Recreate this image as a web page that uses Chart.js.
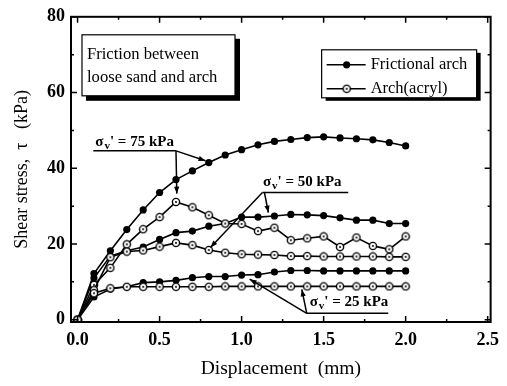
<!DOCTYPE html>
<html lang="en">
<head>
  <meta charset="UTF-8">
  <title>Friction between loose sand and arch</title>
  <script src="https://cdn.jsdelivr.net/npm/chart.js"></script>
  <style>
    html, body { margin: 0; padding: 0; background: #ffffff; }
    #wrap { width: 507px; height: 386px; }
  </style>
</head>
<body>
  <div id="wrap"><canvas id="shearChart" width="507" height="386"></canvas></div>

  <script>
    // displacement steps (mm)
    const displacement = [0.0, 0.1, 0.2, 0.3, 0.4, 0.5, 0.6, 0.7, 0.8, 0.9, 1.0,
                          1.1, 1.2, 1.3, 1.4, 1.5, 1.6, 1.7, 1.8, 1.9, 2.0];

    // shear stress (kPa), frictional arch
    const frictional75 = [0, 12.2, 18.2, 23.8, 29.0, 33.6, 37.0, 39.3, 41.5, 43.5, 44.9,
                          46.2, 47.1, 47.6, 48.1, 48.3, 48.0, 47.8, 47.5, 46.8, 45.9];
    const frictional50 = [0, 11.0, 16.8, 18.2, 19.2, 21.2, 23.0, 23.4, 24.7, 25.4, 27.1,
                          27.1, 27.4, 27.8, 27.7, 27.5, 26.9, 26.3, 26.3, 25.4, 25.4];
    const frictional25 = [0, 6.0, 8.1, 8.7, 9.8, 10.0, 10.4, 11.1, 11.4, 11.4, 11.8,
                          11.9, 12.6, 13.0, 13.0, 12.9, 12.9, 12.9, 12.9, 12.9, 12.9];

    // shear stress (kPa), acrylic arch
    const acryl75 = [0, 9.2, 13.7, 19.9, 23.9, 27.1, 31.1, 29.7, 27.6, 25.4, 25.3,
                     23.4, 24.3, 21.0, 21.5, 22.0, 19.2, 21.7, 19.5, 18.6, 22.0];
    const acryl50 = [0, 7.8, 16.5, 18.0, 18.3, 19.3, 20.3, 19.7, 18.4, 17.7, 17.3,
                     17.2, 17.1, 16.8, 16.8, 16.7, 16.7, 16.7, 16.7, 16.6, 16.6];
    const acryl25 = [0, 7.0, 8.3, 8.7, 8.7, 8.7, 8.7, 8.7, 8.7, 8.8, 8.8,
                     8.8, 8.8, 8.8, 8.8, 8.8, 8.8, 8.8, 8.8, 8.8, 8.8];

    const xTicks = [0, 0.5, 1.0, 1.5, 2.0, 2.5];
    const yTicks = [0, 20, 40, 60, 80];
    const legendLabels = ['Frictional arch', 'Arch(acryl)'];

    const SERIF = '"Liberation Serif", "DejaVu Serif", serif';

    // open circle with a dot in the middle
    function makeOpenMarker() {
      const c = document.createElement('canvas');
      c.width = 10; c.height = 10;
      const g = c.getContext('2d');
      g.fillStyle = '#fff';
      g.strokeStyle = '#000';
      g.lineWidth = 1.4;
      g.beginPath(); g.arc(5, 5, 3.6, 0, Math.PI * 2); g.fill(); g.stroke();
      g.fillStyle = '#000';
      g.beginPath(); g.arc(5, 5, 1.0, 0, Math.PI * 2); g.fill();
      return c;
    }
    const openMarker = makeOpenMarker();

    function pts(ys) {
      return displacement.map((x, i) => ({ x: x, y: ys[i] }));
    }

    function filledSet(ys) {
      return {
        data: pts(ys), showLine: true, borderColor: '#000', borderWidth: 1.6,
        pointStyle: 'circle', pointRadius: 3.6, pointBackgroundColor: '#000',
        pointBorderColor: '#000', pointBorderWidth: 0
      };
    }
    function openSet(ys) {
      return {
        data: pts(ys), showLine: true, borderColor: '#000', borderWidth: 1.6,
        pointStyle: openMarker, pointRadius: 5
      };
    }

    function arrow(ctx, x1, y1, x2, y2) {
      ctx.beginPath(); ctx.moveTo(x1, y1); ctx.lineTo(x2, y2); ctx.stroke();
      const a = Math.atan2(y2 - y1, x2 - x1), L = 7, W = 2.6;
      ctx.beginPath();
      ctx.moveTo(x2, y2);
      ctx.lineTo(x2 - L * Math.cos(a) + W * Math.sin(a), y2 - L * Math.sin(a) - W * Math.cos(a));
      ctx.lineTo(x2 - L * Math.cos(a) - W * Math.sin(a), y2 - L * Math.sin(a) + W * Math.cos(a));
      ctx.closePath(); ctx.fill();
    }

    function sigmaLabel(ctx, x, y, kpa) {
      ctx.textAlign = 'left';
      ctx.textBaseline = 'alphabetic';
      ctx.font = 'bold 15px ' + SERIF;
      ctx.fillText('\u03c3', x, y);
      let w = ctx.measureText('\u03c3').width + 1;
      ctx.font = 'bold 11px ' + SERIF;
      ctx.fillText('v', x + w, y + 3);
      w += ctx.measureText('v').width;
      ctx.font = 'bold 15px ' + SERIF;
      ctx.fillText("' = " + kpa + ' kPa', x + w, y);
    }

    const framePlugin = {
      id: 'frame',
      afterDatasetsDraw(chart) {
        const { ctx, chartArea: a, scales: { x, y } } = chart;
        ctx.save();
        ctx.strokeStyle = '#000';
        ctx.fillStyle = '#000';

        // frame
        ctx.lineWidth = 2;
        ctx.strokeRect(a.left, a.top, a.right - a.left, a.bottom - a.top);

        // inward ticks on all four sides
        ctx.lineWidth = 1.5;
        ctx.beginPath();
        for (let v = 0; v <= 2.5001; v += 0.25) {
          const px = x.getPixelForValue(v);
          const len = Math.abs(v * 2 - Math.round(v * 2)) < 1e-6 ? 6 : 3;
          ctx.moveTo(px, a.bottom); ctx.lineTo(px, a.bottom - len);
          ctx.moveTo(px, a.top); ctx.lineTo(px, a.top + len);
        }
        for (let v = 0; v <= 80; v += 10) {
          const py = y.getPixelForValue(v);
          const len = v % 20 === 0 ? 6 : 3;
          ctx.moveTo(a.left, py); ctx.lineTo(a.left + len, py);
          ctx.moveTo(a.right, py); ctx.lineTo(a.right - len, py);
        }
        ctx.stroke();

        // caption box with drop shadow
        ctx.fillRect(a.left + 15, a.top + 22, 154, 62);
        ctx.fillStyle = '#fff';
        ctx.fillRect(a.left + 11, a.top + 18, 153, 61);
        ctx.lineWidth = 1.2;
        ctx.strokeRect(a.left + 11, a.top + 18, 153, 61);
        ctx.fillStyle = '#000';
        ctx.font = '16.6px ' + SERIF;
        ctx.textAlign = 'left';
        ctx.textBaseline = 'middle';
        ctx.fillText('Friction between', a.left + 16, a.top + 38);
        ctx.fillText('loose sand and arch', a.left + 16, a.top + 61);

        // legend box
        const lx = a.right - 169, ly = a.top + 33, lw = 155, lh = 48;
        ctx.fillRect(lx + 4, ly + 3, lw, lh);
        ctx.fillStyle = '#fff';
        ctx.fillRect(lx, ly, lw, lh);
        ctx.strokeRect(lx, ly, lw, lh);
        ctx.fillStyle = '#000';
        ctx.lineWidth = 1.6;
        ctx.font = '16.5px ' + SERIF;
        [ly + 15, ly + 39].forEach((ry, i) => {
          ctx.beginPath(); ctx.moveTo(lx + 5, ry); ctx.lineTo(lx + 44, ry); ctx.stroke();
          if (i === 0) {
            ctx.beginPath(); ctx.arc(lx + 25, ry, 3.6, 0, Math.PI * 2); ctx.fill();
          } else {
            ctx.drawImage(openMarker, lx + 20, ry - 5);
          }
          ctx.fillText(legendLabels[i], lx + 49, ry);
        });

        // stress level annotations, placed in data units
        const P = (vx, vy) => [x.getPixelForValue(vx), y.getPixelForValue(vy)];
        ctx.lineWidth = 1.5;

        let [ax, ay] = P(0.096, 44.6);
        let [bx, by] = P(0.6, 44.6);
        ctx.beginPath(); ctx.moveTo(ax, ay); ctx.lineTo(bx, by); ctx.stroke();
        arrow(ctx, bx, by, ...P(0.605, 33.3));
        arrow(ctx, bx, by, ...P(0.78, 42.0));
        sigmaLabel(ctx, ...P(0.108, 46.0), 75);

        [ax, ay] = P(1.127, 33.6);
        [bx, by] = P(1.65, 33.6);
        ctx.beginPath(); ctx.moveTo(ax, ay); ctx.lineTo(bx, by); ctx.stroke();
        arrow(ctx, ax, ay, ...P(0.81, 19.1));
        arrow(ctx, ax + 2, ay, ...P(1.163, 28.3));
        sigmaLabel(ctx, ...P(1.13, 35.2), 50);

        [ax, ay] = P(1.397, 1.7);
        [bx, by] = P(1.894, 1.7);
        ctx.beginPath(); ctx.moveTo(ax, ay); ctx.lineTo(bx, by); ctx.stroke();
        arrow(ctx, ax, ay, ...P(1.049, 10.7));
        arrow(ctx, ax, ay, ...P(1.367, 8.0));
        sigmaLabel(ctx, ...P(1.415, 3.5), 25);

        ctx.restore();
      }
    };

    const tickFont = { family: SERIF, size: 18, weight: 'bold' };

    new Chart(document.getElementById('shearChart'), {
      type: 'scatter',
      data: {
        datasets: [
          openSet(acryl25), openSet(acryl50), openSet(acryl75),
          filledSet(frictional25), filledSet(frictional50), filledSet(frictional75)
        ]
      },
      options: {
        responsive: false,
        animation: false,
        devicePixelRatio: 1,
        layout: { padding: { left: 0, right: 10, top: 15, bottom: 0 } },
        plugins: { legend: { display: false }, tooltip: { enabled: false } },
        elements: { line: { tension: 0 } },
        scales: {
          x: {
            type: 'linear', min: -0.04, max: 2.518,
            grid: { display: false, drawTicks: false },
            border: { display: false },
            afterBuildTicks: s => { s.ticks = xTicks.map(v => ({ value: v })); },
            afterFit: s => { s.height = 64; },
            ticks: {
              color: '#000', font: tickFont, padding: 8, maxRotation: 0,
              callback: v => v.toFixed(1)
            },
            title: {
              display: true, text: 'Displacement  (mm)', color: '#000',
              font: { family: SERIF, size: 19.5 }, padding: { bottom: 5 }
            }
          },
          y: {
            type: 'linear', min: -0.6, max: 80,
            grid: { display: false, drawTicks: false },
            border: { display: false },
            afterBuildTicks: s => { s.ticks = yTicks.map(v => ({ value: v })); },
            afterFit: s => { s.width = 71; },
            ticks: { color: '#000', font: tickFont, padding: 6 },
            title: {
              display: true, text: 'Shear stress,  \u03c4   (kPa)', color: '#000',
              font: { family: SERIF, size: 18 }, padding: { top: 11 }
            }
          }
        }
      },
      plugins: [framePlugin]
    });
  </script>
</body>
</html>
